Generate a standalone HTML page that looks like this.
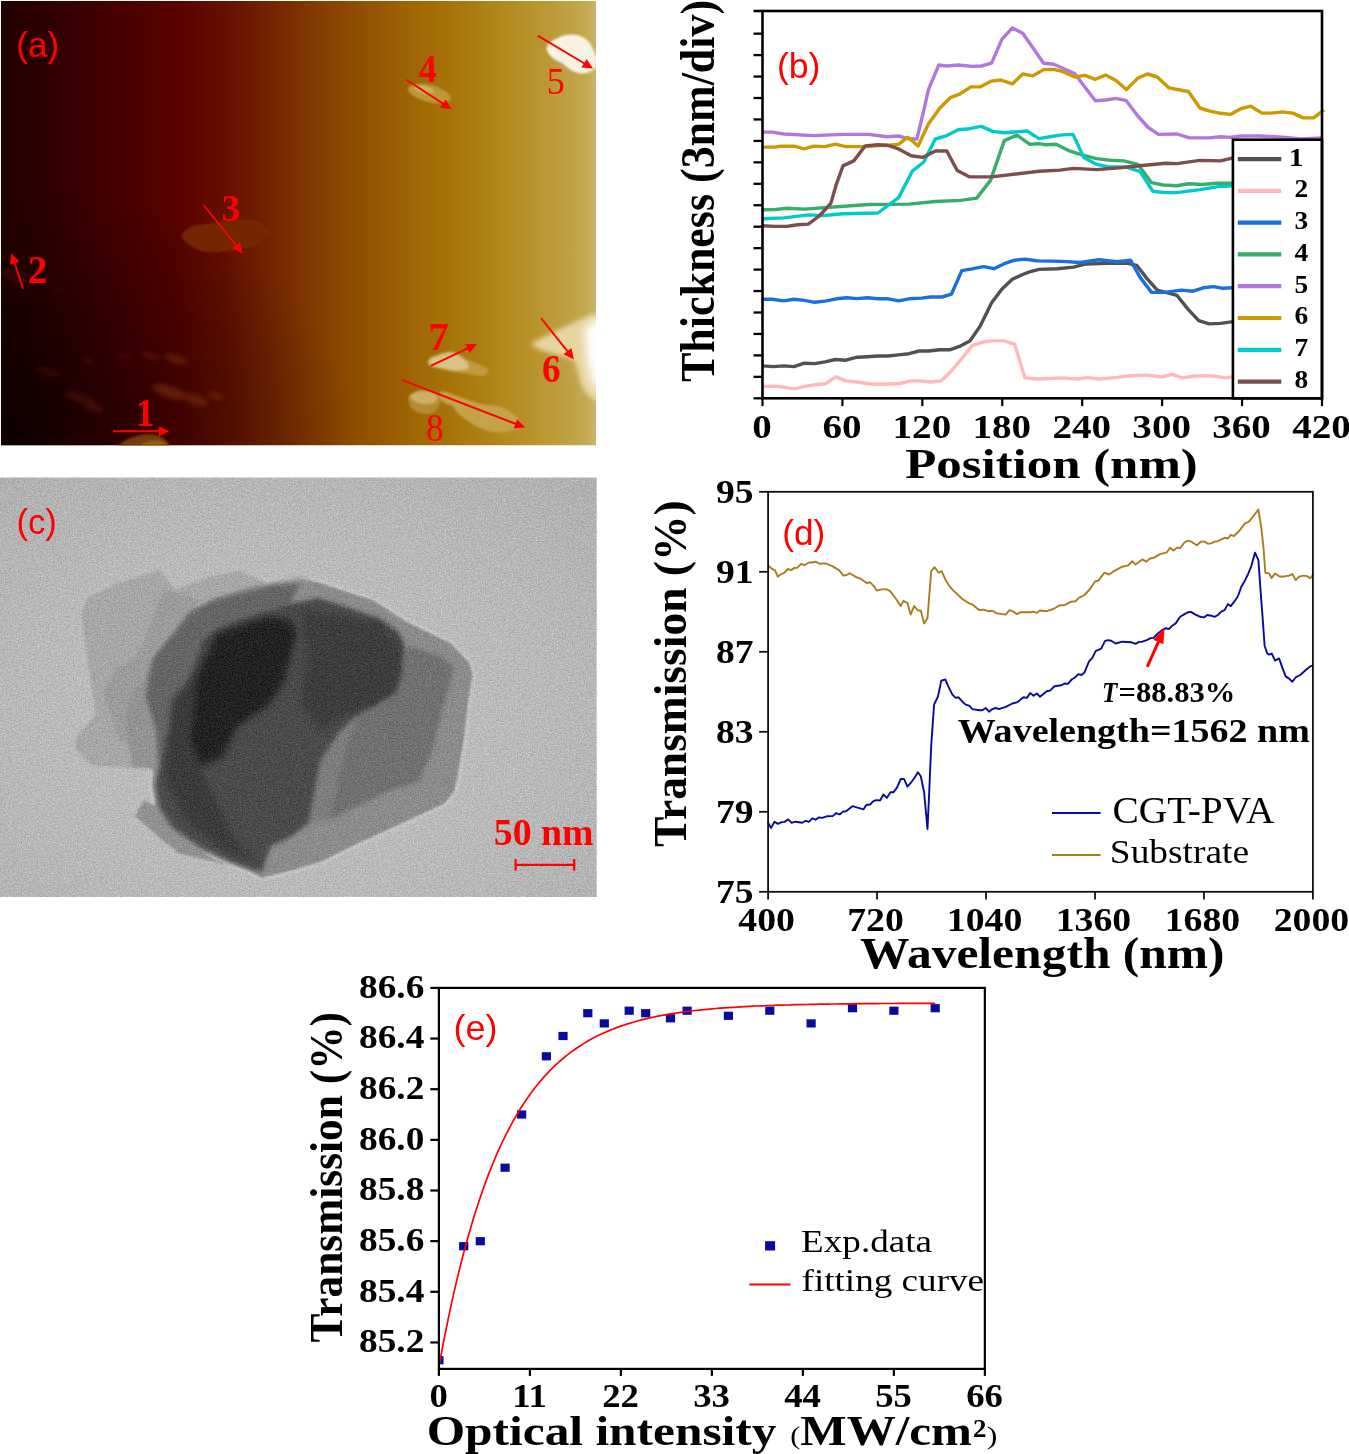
<!DOCTYPE html>
<html lang="en"><head><meta charset="utf-8"><title>Figure</title>
<style>html,body{margin:0;padding:0;background:#fff}svg{display:block}text{white-space:pre}</style></head>
<body>
<svg width="1349" height="1454" viewBox="0 0 1349 1454">
<rect width="1349" height="1454" fill="#fff"/>
<defs>
<linearGradient id="ga" x1="0" y1="0" x2="1" y2="0">
<stop offset="0" stop-color="#220000"/>
<stop offset="0.06" stop-color="#2b0000"/>
<stop offset="0.13" stop-color="#3a0000"/>
<stop offset="0.20" stop-color="#480000"/>
<stop offset="0.30" stop-color="#590200"/>
<stop offset="0.38" stop-color="#661000"/>
<stop offset="0.46" stop-color="#752600"/>
<stop offset="0.54" stop-color="#853e00"/>
<stop offset="0.62" stop-color="#935300"/>
<stop offset="0.70" stop-color="#a06803"/>
<stop offset="0.78" stop-color="#a9790c"/>
<stop offset="0.86" stop-color="#b48d20"/>
<stop offset="0.93" stop-color="#bc9b38"/>
<stop offset="0.98" stop-color="#c4a850"/>
<stop offset="1" stop-color="#cbb268"/>
</linearGradient>
<linearGradient id="gav" x1="0" y1="0" x2="0.35" y2="1">
<stop offset="0" stop-color="#000" stop-opacity="0"/>
<stop offset="0.5" stop-color="#000" stop-opacity="0.05"/>
<stop offset="1" stop-color="#000" stop-opacity="0.0"/>
</linearGradient>
<radialGradient id="gabl" cx="0" cy="1" r="0.6">
<stop offset="0" stop-color="#000" stop-opacity="0.6"/>
<stop offset="1" stop-color="#000" stop-opacity="0"/>
</radialGradient>
<filter id="bl1" x="-20%" y="-20%" width="140%" height="140%"><feGaussianBlur stdDeviation="1.2"/></filter>
<filter id="bl2" x="-30%" y="-30%" width="160%" height="160%"><feGaussianBlur stdDeviation="2.5"/></filter>
<filter id="bl4" x="-30%" y="-30%" width="160%" height="160%"><feGaussianBlur stdDeviation="5"/></filter>
<clipPath id="ca"><rect x="1" y="1" width="595" height="444.5"/></clipPath>
</defs>
<g clip-path="url(#ca)">
<rect x="1" y="1" width="595" height="444.5" fill="url(#ga)"/>
<rect x="1" y="1" width="595" height="444.5" fill="url(#gabl)"/>
<g filter="url(#bl1)">
<path d="M183,234 C186,228 195,226 205,225 C220,222 235,220 245,220.5 C255,221 266,225 267,231 C267,237 262,241 255,244 C245,248 225,251 212,251.7 C200,251 192,247 188,243 C184,240 182,237 183,234Z" fill="#732606" stroke="#7e3210" stroke-width="1"/>
<ellipse cx="429.5" cy="93.5" rx="22" ry="8.5" transform="rotate(14 429.5 93.5)" fill="#bd9838"/>
<ellipse cx="424" cy="89.5" rx="10" ry="3.5" transform="rotate(14 424 89.5)" fill="#d0b162"/>
<path d="M427.4,361.7 C429,357 433,355.5 436.5,355.5 C442,352 448,351 453,351.3 C459,353 463,357 467.6,359.6 C473,362 479,364 483,366 C486,367 488.4,368 488.4,370 C488,373 486,375.7 482,375.7 C474,375.5 466,374 459,372.6 C452,372 446,370.5 441.7,369 C436,368 431,367 430.3,365.9 C428,365 427,363 427.4,361.7Z" fill="#c09a3c"/>
<path d="M429,361.5 C431,357.5 435,356.5 438,356 C444,353 449,352.5 453,353 C458,355 462,358.5 466,361 C469,364 470,367 467,369 C462,371 455,370.5 449,369.5 C443,368.5 437,367.5 432,366 C430,365 428.5,363 429,361.5Z" fill="#d9c384"/>
<path d="M408.5,398 C410,392 418,389.7 426,390 C433,390.5 440,393 440.7,398 C441,404 438,410 432,413.5 C426,415 418,414 413,410 C409.5,406 408,402 408.5,398Z" fill="#b48c30"/>
<path d="M410,397 C412,392 419,390.5 426,391 C432,391.5 438,394 438,398 C437,402 432,404 426,404 C420,404 413,402 410,397Z" fill="#ccb064"/>
<path d="M440.7,391.3 C446,391 452,394 457.3,396 C464,398.5 471,401 478,403.2 C485,405 492,405.5 498.8,406.3 C505,408 510,411 514.3,414.6 C518,418 520.6,421 520.6,424 C520,427.5 518,430 514.3,430.2 C508,432 500,432.5 493.6,432.3 C486,431 479,428 473.9,425 C468,421.5 463,418 459.3,414.6 C456,412 454.5,409 453.1,406.3 C448,404.5 443,402.5 440.7,400 C439.5,397 439.5,393.5 440.7,391.3Z" fill="#c5a348"/>
<path d="M118,446 C124,439 136,435 148,434 C158,434 166,438 170,446Z" fill="#87480a" opacity="0.8"/>
<path d="M140,446 C145,441 154,439 160,441 C164,442 167,444 168,446Z" fill="#9a6a0a" opacity="0.8"/>
</g>
<g filter="url(#bl1)">
<path d="M546.5,49 C547,43 553,40 558,38 C563,35 570,33.5 577,35 C584,36.5 590,41 592,47 C594,52 597,56 597,60 L597,66 C592,72 585,75 578,73 C571,71 566,67 562,63 C556,61 548,56 546.5,49Z" fill="#f7f2e2"/>
</g>
<g filter="url(#bl2)">
<path d="M531,344 C536,340 545,337 552,333 C560,329 568,325 575,322 C583,318 590,315 600,313 L600,403 C594,400 588,396 584,390 C580,384 578,372 575,362 C570,358 562,356 555,354 C546,352 536,349 531,344Z" fill="#e6d5a0"/>
</g>
<g filter="url(#bl4)">
<path d="M585,328 C590,322 596,320 604,318 L604,394 C596,390 591,384 589,370 C587,356 584,340 585,328Z" fill="#ffffff"/>
</g>
<g filter="url(#bl2)" opacity="0.45">
<ellipse cx="176" cy="359" rx="12" ry="4" transform="rotate(18 176 359)" fill="#8a3a10"/>
<ellipse cx="150" cy="356" rx="10" ry="3.5" transform="rotate(18 150 356)" fill="#6a1a08"/>
<ellipse cx="125" cy="356" rx="9" ry="3" transform="rotate(18 125 356)" fill="#5a1208"/>
<ellipse cx="88" cy="361" rx="8" ry="3" transform="rotate(18 88 361)" fill="#561008"/>
<ellipse cx="170" cy="392" rx="18" ry="6" transform="rotate(18 170 392)" fill="#8c4012"/>
<ellipse cx="196" cy="400" rx="12" ry="5" transform="rotate(18 196 400)" fill="#8a3c10"/>
<ellipse cx="216" cy="396" rx="8" ry="4" transform="rotate(18 216 396)" fill="#7a300c"/>
<ellipse cx="80" cy="398" rx="16" ry="5" transform="rotate(18 80 398)" fill="#641408"/>
<ellipse cx="95" cy="408" rx="10" ry="4" transform="rotate(18 95 408)" fill="#701c0a"/>
<ellipse cx="48" cy="372" rx="12" ry="5" transform="rotate(18 48 372)" fill="#4a0c06"/>
<ellipse cx="15" cy="276" rx="16" ry="6" transform="rotate(18 15 276)" fill="#50100a"/>
<ellipse cx="60" cy="290" rx="8" ry="3" transform="rotate(18 60 290)" fill="#420a06"/>
</g>
</g>
<line x1="113.0" y1="431.3" x2="160.8" y2="431.3" stroke="#ff0000" stroke-width="1.9"/><polygon points="169.3,431.3 158.8,436.3 158.8,426.3" fill="#ff0000"/>
<line x1="23.1" y1="288.8" x2="14.0" y2="261.3" stroke="#ff0000" stroke-width="1.9"/><polygon points="11.3,253.2 19.3,261.6 9.9,264.7" fill="#ff0000"/>
<line x1="203.5" y1="205.0" x2="237.5" y2="247.0" stroke="#ff0000" stroke-width="1.9"/><polygon points="242.8,253.6 232.3,248.6 240.1,242.3" fill="#ff0000"/>
<line x1="406.5" y1="79.7" x2="444.6" y2="104.6" stroke="#ff0000" stroke-width="1.9"/><polygon points="451.7,109.3 440.2,107.7 445.7,99.4" fill="#ff0000"/>
<line x1="537.8" y1="35.6" x2="585.7" y2="64.2" stroke="#ff0000" stroke-width="1.9"/><polygon points="593.0,68.6 581.4,67.5 586.6,58.9" fill="#ff0000"/>
<line x1="541.1" y1="318.2" x2="568.7" y2="352.8" stroke="#ff0000" stroke-width="1.9"/><polygon points="574.0,359.4 563.5,354.3 571.4,348.1" fill="#ff0000"/>
<line x1="430.8" y1="365.9" x2="469.3" y2="347.7" stroke="#ff0000" stroke-width="1.9"/><polygon points="477.0,344.1 469.6,353.1 465.4,344.1" fill="#ff0000"/>
<line x1="401.7" y1="379.9" x2="517.3" y2="424.5" stroke="#ff0000" stroke-width="1.9"/><polygon points="525.2,427.6 513.6,428.5 517.2,419.2" fill="#ff0000"/>
<clipPath id="cb"><rect x="762.5" y="11" width="563.5" height="387.3"/></clipPath>
<g clip-path="url(#cb)">
<polyline points="762.5,365.9 773.3,366.6 783.7,365.9 794.0,366.6 804.3,363.2 814.7,363.6 825.0,361.8 835.4,359.5 845.7,360.2 857.2,357.2 867.5,356.7 877.9,356.0 888.2,356.0 898.6,354.9 908.9,353.7 919.2,351.0 928.4,351.0 939.9,349.8 949.6,349.8 959.5,346.4 969.8,341.1 980.1,326.2 991.6,302.7 1002.0,288.9 1012.3,279.3 1022.7,274.5 1029.5,271.9 1039.0,269.4 1057.4,268.7 1073.5,267.1 1085.0,264.1 1107.9,263.2 1126.3,263.2 1136.7,265.3 1147.0,278.6 1157.3,290.1 1176.9,295.4 1188.4,309.6 1198.7,320.7 1209.1,323.9 1220.5,323.4 1233.2,321.6" fill="none" stroke="#515151" stroke-width="3.4" stroke-linejoin="round" stroke-linecap="butt" />
<polyline points="762.5,386.6 773.3,386.1 783.7,387.1 794.0,388.9 804.3,386.6 814.7,384.8 825.5,383.8 835.8,376.7 845.7,380.9 857.2,382.0 868.7,383.8 877.9,384.3 898.6,383.8 910.1,380.9 919.2,380.9 930.7,382.0 941.1,380.9 951.4,371.0 961.8,358.6 972.1,345.7 983.6,341.8 992.8,340.9 1004.3,340.9 1014.6,344.1 1025.0,377.9 1036.4,379.0 1039.0,379.0 1062.0,377.9 1078.1,379.0 1087.3,377.4 1098.7,379.0 1117.1,377.4 1130.9,375.8 1147.0,375.1 1161.9,377.0 1171.8,374.4 1182.6,377.9 1193.0,376.3 1204.5,375.6 1215.9,376.3 1225.1,377.9 1233.2,377.0" fill="none" stroke="#ffb9b9" stroke-width="3.4" stroke-linejoin="round" stroke-linecap="butt" />
<polyline points="762.5,299.3 772.2,299.3 783.7,300.9 794.0,299.3 804.3,300.4 814.7,302.3 825.0,301.1 836.5,298.8 846.9,297.7 857.2,298.6 867.5,297.7 877.9,298.8 888.2,298.8 898.6,300.9 908.9,298.8 921.5,298.1 930.7,297.0 942.2,297.0 951.4,294.2 961.8,270.6 972.1,268.9 983.6,266.6 993.9,268.7 1004.3,263.7 1014.6,260.2 1025.0,259.1 1036.4,260.7 1039.0,260.9 1062.0,261.4 1080.4,262.5 1098.7,259.8 1117.1,261.8 1130.5,260.2 1140.1,277.4 1151.6,292.4 1164.2,292.4 1181.5,290.1 1193.0,291.2 1203.3,287.8 1213.6,286.6 1222.8,288.3 1233.2,287.8" fill="none" stroke="#1a6fdf" stroke-width="3.4" stroke-linejoin="round" stroke-linecap="butt" />
<polyline points="762.5,209.8 774.5,209.6 787.1,208.2 804.3,209.1 868.7,204.5 908.9,204.1 935.3,201.5 960.6,200.4 976.7,198.1 990.5,180.4 1004.3,140.6 1016.9,135.1 1029.8,144.3 1039.0,143.6 1045.9,144.8 1056.2,144.3 1070.0,151.2 1082.7,155.1 1096.4,158.6 1110.2,160.2 1124.0,160.9 1137.8,164.3 1151.6,182.7 1163.1,185.0 1176.9,185.7 1188.4,183.8 1202.2,184.5 1215.9,183.2 1233.2,183.2" fill="none" stroke="#37ad6b" stroke-width="3.4" stroke-linejoin="round" stroke-linecap="butt" />
<polyline points="762.5,132.1 772.2,132.1 783.7,134.0 813.5,135.6 843.4,134.4 868.7,134.4 887.1,136.7 898.6,136.0 907.8,138.6 916.9,139.0 923.8,110.3 928.4,89.6 938.8,65.0 946.8,66.0 958.3,65.0 972.1,66.4 981.3,66.0 991.6,63.2 1002.0,39.1 1012.3,28.0 1022.7,33.3 1034.1,49.4 1043.6,63.2 1053.9,64.3 1074.6,73.5 1095.3,100.7 1105.6,100.0 1116.0,98.4 1126.3,100.7 1137.8,116.0 1148.2,127.5 1158.5,134.4 1176.9,134.0 1189.5,137.9 1209.1,137.9 1220.5,136.7 1229.7,137.4 1241.2,136.0 1259.6,136.0 1282.6,137.2 1301.0,139.0 1321.7,137.9" fill="none" stroke="#b177de" stroke-width="3.4" stroke-linejoin="round" stroke-linecap="butt" />
<polyline points="762.5,147.1 774.5,147.1 781.4,146.2 794.0,146.2 804.3,148.9 813.5,146.2 825.0,146.6 835.4,144.1 845.7,146.6 868.7,146.6 877.9,145.5 887.1,145.5 898.6,144.3 907.8,137.2 918.1,145.9 928.4,124.1 939.9,108.0 950.3,97.7 959.5,94.2 970.9,86.9 980.1,86.9 991.6,81.1 1000.8,80.0 1012.3,83.9 1022.7,74.0 1033.0,75.8 1043.6,69.6 1053.9,69.4 1063.1,71.7 1074.6,77.0 1085.0,75.4 1095.3,79.3 1105.6,75.1 1116.0,80.4 1126.3,89.6 1137.8,78.1 1147.5,74.0 1157.3,77.0 1168.8,87.8 1188.4,91.5 1199.9,108.0 1209.1,110.8 1220.5,113.3 1230.4,114.4 1241.2,108.5 1250.9,106.2 1261.9,113.1 1271.1,113.1 1282.6,111.9 1292.9,113.1 1303.3,117.9 1313.6,117.9 1324.0,109.8" fill="none" stroke="#cc9900" stroke-width="3.4" stroke-linejoin="round" stroke-linecap="butt" />
<polyline points="762.5,218.8 783.7,217.9 808.9,214.9 822.7,215.6 843.4,213.7 877.9,213.0 898.6,197.6 912.3,171.2 923.8,162.0 935.3,139.0 946.8,135.6 958.3,129.8 969.8,128.7 981.3,126.4 992.8,131.4 1004.3,132.8 1027.2,131.0 1039.0,138.6 1052.8,136.3 1062.0,134.9 1073.0,134.4 1083.8,157.4 1096.4,164.3 1107.9,166.6 1126.3,167.1 1140.1,171.7 1152.8,191.2 1165.4,192.6 1176.9,192.6 1199.9,189.6 1218.2,186.6 1233.2,185.7" fill="none" stroke="#00cbcc" stroke-width="3.4" stroke-linejoin="round" stroke-linecap="butt" />
<polyline points="762.5,225.7 774.5,226.4 787.1,226.4 797.4,224.7 808.3,224.1 819.3,216.0 830.8,203.4 836.5,183.8 843.0,165.9 853.8,160.9 865.2,145.9 877.9,144.8 887.1,145.2 898.6,148.9 911.2,155.8 922.7,157.4 935.3,151.0 946.8,151.0 957.2,170.5 969.8,176.9 991.6,176.9 1039.0,171.2 1059.7,170.1 1073.5,168.4 1096.4,169.6 1119.4,167.8 1142.4,165.5 1165.4,163.2 1176.9,163.6 1199.9,160.4 1220.5,160.9 1233.2,157.9" fill="none" stroke="#7d4e4e" stroke-width="3.4" stroke-linejoin="round" stroke-linecap="butt" />
</g>
<rect x="1232.9" y="139.7" width="89.09999999999991" height="258.6" fill="#fff" stroke="#000" stroke-width="2.6"/>
<line x1="1237.8" y1="159.1" x2="1281.3" y2="159.1" stroke="#515151" stroke-width="4.2"/>
<line x1="1237.8" y1="190.9" x2="1281.3" y2="190.9" stroke="#ffb9b9" stroke-width="4.2"/>
<line x1="1237.8" y1="222.7" x2="1281.3" y2="222.7" stroke="#1a6fdf" stroke-width="4.2"/>
<line x1="1237.8" y1="254.4" x2="1281.3" y2="254.4" stroke="#37ad6b" stroke-width="4.2"/>
<line x1="1237.8" y1="286.2" x2="1281.3" y2="286.2" stroke="#b177de" stroke-width="4.2"/>
<line x1="1237.8" y1="318.0" x2="1281.3" y2="318.0" stroke="#cc9900" stroke-width="4.2"/>
<line x1="1237.8" y1="349.8" x2="1281.3" y2="349.8" stroke="#00cbcc" stroke-width="4.2"/>
<line x1="1237.8" y1="381.6" x2="1281.3" y2="381.6" stroke="#7d4e4e" stroke-width="4.2"/>
<rect x="762.5" y="11" width="559.5" height="387.3" fill="none" stroke="#000" stroke-width="2.6"/>
<line x1="753.5" y1="11" x2="762.5" y2="11" stroke="#000" stroke-width="2.6"/>
<line x1="753.5" y1="398.30" x2="762.5" y2="398.30" stroke="#000" stroke-width="2.3"/>
<line x1="753.5" y1="376.85" x2="762.5" y2="376.85" stroke="#000" stroke-width="2.3"/>
<line x1="753.5" y1="355.40" x2="762.5" y2="355.40" stroke="#000" stroke-width="2.3"/>
<line x1="753.5" y1="333.95" x2="762.5" y2="333.95" stroke="#000" stroke-width="2.3"/>
<line x1="753.5" y1="312.50" x2="762.5" y2="312.50" stroke="#000" stroke-width="2.3"/>
<line x1="753.5" y1="291.05" x2="762.5" y2="291.05" stroke="#000" stroke-width="2.3"/>
<line x1="753.5" y1="269.60" x2="762.5" y2="269.60" stroke="#000" stroke-width="2.3"/>
<line x1="753.5" y1="248.15" x2="762.5" y2="248.15" stroke="#000" stroke-width="2.3"/>
<line x1="753.5" y1="226.70" x2="762.5" y2="226.70" stroke="#000" stroke-width="2.3"/>
<line x1="753.5" y1="205.25" x2="762.5" y2="205.25" stroke="#000" stroke-width="2.3"/>
<line x1="753.5" y1="183.80" x2="762.5" y2="183.80" stroke="#000" stroke-width="2.3"/>
<line x1="753.5" y1="162.35" x2="762.5" y2="162.35" stroke="#000" stroke-width="2.3"/>
<line x1="753.5" y1="140.90" x2="762.5" y2="140.90" stroke="#000" stroke-width="2.3"/>
<line x1="753.5" y1="119.45" x2="762.5" y2="119.45" stroke="#000" stroke-width="2.3"/>
<line x1="753.5" y1="98.00" x2="762.5" y2="98.00" stroke="#000" stroke-width="2.3"/>
<line x1="753.5" y1="76.55" x2="762.5" y2="76.55" stroke="#000" stroke-width="2.3"/>
<line x1="753.5" y1="55.10" x2="762.5" y2="55.10" stroke="#000" stroke-width="2.3"/>
<line x1="753.5" y1="33.65" x2="762.5" y2="33.65" stroke="#000" stroke-width="2.3"/>
<line x1="762.50" y1="398.3" x2="762.50" y2="406.1" stroke="#000" stroke-width="2.2"/>
<line x1="842.43" y1="398.3" x2="842.43" y2="406.1" stroke="#000" stroke-width="2.2"/>
<line x1="922.36" y1="398.3" x2="922.36" y2="406.1" stroke="#000" stroke-width="2.2"/>
<line x1="1002.29" y1="398.3" x2="1002.29" y2="406.1" stroke="#000" stroke-width="2.2"/>
<line x1="1082.21" y1="398.3" x2="1082.21" y2="406.1" stroke="#000" stroke-width="2.2"/>
<line x1="1162.14" y1="398.3" x2="1162.14" y2="406.1" stroke="#000" stroke-width="2.2"/>
<line x1="1242.07" y1="398.3" x2="1242.07" y2="406.1" stroke="#000" stroke-width="2.2"/>
<line x1="1322.00" y1="398.3" x2="1322.00" y2="406.1" stroke="#000" stroke-width="2.2"/>
<defs>
<filter id="noise" x="0" y="0" width="100%" height="100%" color-interpolation-filters="sRGB">
<feTurbulence type="fractalNoise" baseFrequency="0.75" numOctaves="2" seed="11" stitchTiles="noStitch" result="n"/>
<feColorMatrix in="n" type="matrix" values="1 0 0 0 0  1 0 0 0 0  1 0 0 0 0  0 0 0 0 1" result="g"/>
<feComposite in="SourceGraphic" in2="g" operator="arithmetic" k1="0" k2="1" k3="0.32" k4="-0.16"/>
</filter>
<filter id="b1" x="-10%" y="-10%" width="120%" height="120%"><feGaussianBlur stdDeviation="1.1"/></filter>
<filter id="b2" x="-10%" y="-10%" width="120%" height="120%"><feGaussianBlur stdDeviation="2.2"/></filter>
<filter id="b4" x="-20%" y="-20%" width="140%" height="140%"><feGaussianBlur stdDeviation="3.5"/></filter>
<clipPath id="cc"><rect x="0" y="477.6" width="596.6" height="419.4"/></clipPath>
<radialGradient id="gc" cx="0.48" cy="0.58" r="0.75">
<stop offset="0" stop-color="#c0c0c0"/><stop offset="0.55" stop-color="#bababa"/><stop offset="1" stop-color="#b0b0b0"/>
</radialGradient>
</defs>
<g clip-path="url(#cc)"><g filter="url(#noise)">
<rect x="0" y="477.6" width="596.6" height="419.4" fill="url(#gc)"/>
<g filter="url(#b1)">
<polygon points="271.0,584.0 249.0,587.0 215.0,598.0 191.0,610.0 170.0,636.0 153.0,657.0 144.0,681.0 146.0,696.0 156.0,730.0 158.0,756.0 153.0,772.0 152.0,785.0 155.5,806.0 169.0,830.0 200.0,850.0 230.0,864.0 248.0,870.5 262.0,878.0 290.0,871.0 321.0,862.0 355.0,845.0 444.0,804.0 454.0,792.0 457.6,778.0 464.0,739.0 468.6,700.0 473.0,674.0 469.0,662.0 450.5,643.0 407.5,622.0 373.0,600.0 342.0,590.0 318.0,582.0 300.0,580.0" fill="none" stroke="#cacaca" stroke-width="5"/>
<polygon points="81.5,615.0 87.5,598.0 117.0,583.5 161.0,570.0 165.0,577.0 175.0,590.0 211.0,576.0 240.0,571.0 266.0,583.0 300.0,576.0 340.0,590.0 200.0,700.0 160.0,770.0 131.6,768.0 91.0,765.0 75.0,748.0 77.0,736.0 96.0,715.0 89.0,670.0 86.0,646.0" fill="#a6a6a6"/>
<polygon points="103.0,693.0 117.0,669.0 132.0,660.0 142.5,646.0 153.0,619.0 163.0,590.0 200.0,600.0 170.0,640.0 150.0,690.0 160.0,760.0 120.0,740.0" fill="#9b9b9b"/>
<polygon points="135.0,816.0 143.5,800.6 155.5,805.7 179.4,836.4 213.5,858.6 230.5,865.4 179.4,853.5 162.3,839.8" fill="#919191"/>
<polygon points="133.0,690.0 146.0,680.0 150.0,696.0 158.0,730.0 160.0,756.0 155.0,772.0 146.0,766.0 133.0,768.0 128.0,740.0 126.0,712.0" fill="#939393"/>
<polygon points="271.0,584.0 249.0,587.0 215.0,598.0 191.0,610.0 170.0,636.0 153.0,657.0 144.0,681.0 146.0,696.0 156.0,730.0 158.0,756.0 153.0,772.0 152.0,785.0 155.5,806.0 169.0,830.0 200.0,850.0 230.0,864.0 248.0,870.5 262.0,878.0 290.0,871.0 321.0,862.0 355.0,845.0 444.0,804.0 454.0,792.0 457.6,778.0 464.0,739.0 468.6,700.0 473.0,674.0 469.0,662.0 450.5,643.0 407.5,622.0 373.0,600.0 342.0,590.0 318.0,582.0 300.0,580.0" fill="#8b8b8b"/>
</g>
<g filter="url(#b2)">
<polygon points="271.0,586.0 215.0,600.0 191.0,612.0 170.0,638.0 153.0,659.0 146.0,696.0 156.0,730.0 158.0,756.0 160.0,765.0 167.0,739.0 180.0,705.0 192.0,670.0 203.0,639.0 218.0,628.0 250.0,616.0 290.0,604.0 300.0,584.0" fill="#656565"/>
<polygon points="407.5,646.3 441.9,656.6 453.9,666.9 443.6,704.7 432.0,751.2 418.3,781.8 389.4,790.4 329.7,819.4 338.0,785.0 345.0,751.0 360.0,714.0 377.0,708.0 395.5,693.0 402.0,670.0" fill="#6f6f6f"/>
<polygon points="379.0,703.0 355.0,717.0 338.0,734.0 321.0,760.0 312.6,802.0 309.0,823.0 329.7,818.0 338.0,785.0 345.0,751.0 360.0,714.0" fill="#7d7d7d"/>
<polygon points="290.0,604.0 318.0,598.0 347.0,607.0 380.0,619.0 399.0,632.5 404.0,646.0 402.0,670.0 395.5,693.0 379.0,703.0 355.0,717.0 338.0,734.0 321.0,760.0 312.6,802.0 309.0,823.0 292.0,836.0 270.0,847.0 262.0,872.0 248.0,868.0 230.0,861.0 200.0,847.0 172.0,827.0 159.0,806.0 156.0,785.0 160.0,765.0 167.0,739.0 180.0,705.0 192.0,670.0 203.0,639.0 218.0,628.0 250.0,616.0" fill="#4b4b4b"/>
</g>
<g filter="url(#b4)">
<polygon points="300.0,608.0 380.0,622.2 402.4,646.3 397.2,687.5 376.6,704.7 347.4,713.3 321.6,730.5 300.0,704.7 306.0,653.1" fill="#3e3e3e"/>
<polygon points="216.8,633.4 266.8,616.7 290.2,620.0 296.8,633.4 283.5,683.4 266.8,706.8 236.8,726.8 223.4,756.8 200.1,766.8 190.1,740.1 196.8,673.4" fill="#222222"/>
<polygon points="172.0,700.0 196.0,673.0 190.0,740.0 200.0,767.0 215.0,800.0 235.0,840.0 255.0,862.0 225.0,850.0 185.0,820.0 165.0,780.0" fill="#3a3a3a"/>
</g>
</g></g>
<line x1="514.6" y1="864.8" x2="575.2" y2="864.8" stroke="#ff0000" stroke-width="2.2"/>
<line x1="515.6" y1="858.9" x2="515.6" y2="870.6" stroke="#ff0000" stroke-width="2.2"/>
<line x1="574.2" y1="858.9" x2="574.2" y2="870.6" stroke="#ff0000" stroke-width="2.2"/>
<polyline points="767.8,565.2 772.2,569.0 774.9,570.1 777.8,576.7 781.1,574.1 784.5,572.7 787.8,569.0 791.1,570.1 794.5,567.9 797.1,567.9 801.1,563.8 804.5,565.2 808.9,562.5 812.3,562.5 815.6,561.6 819.4,563.8 825.6,563.4 832.3,566.1 839.0,570.1 843.4,575.6 846.7,575.0 849.6,573.2 856.7,577.4 860.1,578.5 866.8,583.0 870.1,582.3 873.4,585.6 876.8,590.5 881.2,589.4 886.8,589.4 890.1,591.2 895.7,598.5 900.8,606.1 903.4,600.8 907.4,602.8 910.6,614.6 914.1,606.1 917.9,610.5 920.8,610.5 924.1,623.4 927.5,617.9 929.0,599.0 931.2,571.2 934.6,567.2 938.6,572.7 941.7,571.2 945.7,580.1 949.0,585.6 952.4,589.6 962.4,599.0 969.1,603.4 972.4,604.5 979.1,610.1 983.5,609.7 988.0,611.2 992.4,610.8 996.8,613.4 1005.7,614.6 1009.5,610.1 1013.5,611.7 1016.9,614.1 1020.2,612.3 1025.8,612.3 1030.2,612.3 1033.5,611.7 1036.9,612.8 1040.0,610.5 1046.7,611.2 1053.3,609.0 1060.0,605.2 1064.5,605.2 1071.1,601.7 1075.6,601.2 1078.9,597.9 1084.5,595.0 1090.0,589.0 1095.2,581.2 1098.3,580.7 1104.5,572.7 1108.9,574.5 1115.6,570.1 1122.3,566.7 1127.8,565.6 1132.3,561.2 1135.6,564.5 1142.3,559.4 1146.3,561.6 1150.1,558.5 1153.4,557.8 1160.1,554.1 1166.8,552.3 1170.1,547.8 1173.4,550.5 1177.4,547.4 1180.1,548.3 1184.6,542.3 1187.9,540.7 1191.2,541.6 1196.8,545.2 1201.2,541.6 1204.6,541.6 1207.9,543.8 1211.2,543.4 1214.6,541.6 1217.9,541.2 1224.6,537.8 1227.9,538.5 1230.8,534.9 1233.9,536.0 1239.0,531.2 1245.0,523.4 1249.0,521.6 1258.4,509.6 1261.3,527.8 1263.5,547.8 1265.3,572.7 1269.1,573.4 1271.7,577.9 1275.1,573.4 1279.1,576.3 1282.4,576.7 1289.1,575.6 1292.4,574.1 1295.7,580.1 1299.1,576.7 1303.5,575.6 1306.9,576.1 1310.2,578.3 1313.5,574.1" fill="none" stroke="#a87d1e" stroke-width="1.9" stroke-linejoin="round" stroke-linecap="butt" />
<polyline points="767.8,822.3 771.1,827.9 774.5,821.7 777.8,823.9 781.1,822.3 784.5,821.9 788.3,819.4 791.6,822.8 795.6,821.7 802.3,822.8 805.6,820.8 808.9,821.9 812.3,818.3 815.6,819.7 818.9,817.4 822.3,817.9 826.7,816.3 832.7,816.1 836.3,813.0 839.6,814.5 843.0,811.6 846.1,811.2 852.7,806.1 856.7,807.4 863.4,809.4 866.3,805.0 870.1,804.5 873.4,801.2 876.3,800.1 880.1,800.5 883.4,794.5 886.8,797.9 890.5,792.3 893.4,792.3 896.8,787.9 900.8,779.0 904.1,779.0 907.4,786.7 911.2,782.3 914.6,777.8 917.9,772.3 920.8,776.3 924.1,792.3 927.5,829.0 929.0,796.7 931.2,745.6 934.1,704.5 937.9,696.7 941.3,680.6 945.3,679.5 949.0,687.9 952.4,694.6 955.7,697.9 958.6,697.3 962.4,701.7 965.7,704.6 969.1,705.7 972.4,709.1 979.1,710.2 982.4,710.2 985.7,708.0 989.1,711.7 992.4,709.1 995.7,708.0 999.1,709.1 1005.7,706.8 1012.4,703.5 1016.9,702.4 1023.5,697.3 1026.9,697.9 1030.2,693.1 1033.5,695.7 1036.9,693.5 1040.0,696.8 1046.7,691.3 1050.0,690.6 1054.5,686.2 1061.1,685.3 1064.5,683.5 1067.8,683.9 1072.2,679.0 1074.5,677.9 1078.3,674.2 1081.6,675.0 1084.5,672.4 1088.9,661.7 1092.3,657.9 1095.6,651.2 1101.2,648.6 1104.9,641.2 1107.8,640.1 1111.2,640.8 1115.6,643.5 1122.3,641.7 1131.6,642.3 1135.6,643.9 1139.0,641.9 1142.3,641.7 1146.7,640.1 1150.1,638.3 1153.4,637.9 1157.9,633.5 1162.3,630.1 1165.6,628.3 1169.0,629.0 1172.3,625.7 1175.7,623.4 1180.1,616.8 1184.6,614.1 1187.9,612.3 1190.8,611.9 1194.6,614.1 1200.1,616.8 1203.9,617.4 1207.2,615.0 1211.2,615.7 1214.6,616.8 1217.9,615.0 1221.2,611.7 1224.6,610.1 1227.9,604.1 1230.8,606.1 1234.6,601.2 1237.9,596.3 1241.3,586.8 1244.6,581.2 1247.9,574.5 1251.3,566.1 1255.0,552.7 1258.4,560.1 1260.2,585.6 1262.4,614.6 1264.6,645.7 1267.3,653.5 1269.1,654.6 1271.7,653.5 1275.1,660.6 1279.1,658.4 1282.4,667.9 1285.7,676.4 1289.1,678.6 1292.4,681.7 1295.7,677.3 1300.2,675.0 1306.9,669.0 1310.2,666.4 1313.5,665.3" fill="none" stroke="#0a0aa0" stroke-width="1.9" stroke-linejoin="round" stroke-linecap="butt" />
<rect x="768.1" y="491.8" width="544.8000000000001" height="399.99999999999994" fill="none" stroke="#111" stroke-width="1.8"/>
<line x1="759.1" y1="491.80" x2="768.1" y2="491.80" stroke="#111" stroke-width="1.8"/>
<line x1="759.1" y1="571.80" x2="768.1" y2="571.80" stroke="#111" stroke-width="1.8"/>
<line x1="759.1" y1="651.80" x2="768.1" y2="651.80" stroke="#111" stroke-width="1.8"/>
<line x1="759.1" y1="731.80" x2="768.1" y2="731.80" stroke="#111" stroke-width="1.8"/>
<line x1="759.1" y1="811.80" x2="768.1" y2="811.80" stroke="#111" stroke-width="1.8"/>
<line x1="759.1" y1="891.80" x2="768.1" y2="891.80" stroke="#111" stroke-width="1.8"/>
<line x1="768.10" y1="891.8" x2="768.10" y2="899.5999999999999" stroke="#111" stroke-width="1.8"/>
<line x1="877.06" y1="891.8" x2="877.06" y2="899.5999999999999" stroke="#111" stroke-width="1.8"/>
<line x1="986.02" y1="891.8" x2="986.02" y2="899.5999999999999" stroke="#111" stroke-width="1.8"/>
<line x1="1094.98" y1="891.8" x2="1094.98" y2="899.5999999999999" stroke="#111" stroke-width="1.8"/>
<line x1="1203.94" y1="891.8" x2="1203.94" y2="899.5999999999999" stroke="#111" stroke-width="1.8"/>
<line x1="1312.90" y1="891.8" x2="1312.90" y2="899.5999999999999" stroke="#111" stroke-width="1.8"/>
<line x1="1052" y1="813" x2="1100.6" y2="813" stroke="#0a0aa0" stroke-width="2"/>
<line x1="1052" y1="855" x2="1100.6" y2="855" stroke="#a87d1e" stroke-width="2"/>
<line x1="1147.2" y1="666.8" x2="1159.2" y2="640.2" stroke="#ff0000" stroke-width="3"/><polygon points="1164.5,628.3 1163.4,644.2 1153.3,639.7" fill="#ff0000"/>
<clipPath id="ce"><rect x="438.9" y="987.9" width="545.95" height="381.0000000000001"/></clipPath>
<g clip-path="url(#ce)">
<rect x="434.3" y="1356.1" width="9.2" height="8.2" fill="#0a0aa0"/>
<rect x="459.1" y="1242.1" width="9.2" height="8.2" fill="#0a0aa0"/>
<rect x="475.7" y="1237.1" width="9.2" height="8.2" fill="#0a0aa0"/>
<rect x="500.5" y="1163.6" width="9.2" height="8.2" fill="#0a0aa0"/>
<rect x="517.0" y="1110.4" width="9.2" height="8.2" fill="#0a0aa0"/>
<rect x="541.8" y="1052.2" width="9.2" height="8.2" fill="#0a0aa0"/>
<rect x="558.4" y="1031.9" width="9.2" height="8.2" fill="#0a0aa0"/>
<rect x="583.2" y="1009.1" width="9.2" height="8.2" fill="#0a0aa0"/>
<rect x="599.7" y="1019.3" width="9.2" height="8.2" fill="#0a0aa0"/>
<rect x="624.6" y="1006.6" width="9.2" height="8.2" fill="#0a0aa0"/>
<rect x="641.1" y="1009.1" width="9.2" height="8.2" fill="#0a0aa0"/>
<rect x="665.9" y="1014.2" width="9.2" height="8.2" fill="#0a0aa0"/>
<rect x="682.5" y="1006.6" width="9.2" height="8.2" fill="#0a0aa0"/>
<rect x="723.8" y="1011.7" width="9.2" height="8.2" fill="#0a0aa0"/>
<rect x="765.2" y="1006.6" width="9.2" height="8.2" fill="#0a0aa0"/>
<rect x="806.5" y="1019.3" width="9.2" height="8.2" fill="#0a0aa0"/>
<rect x="847.9" y="1004.1" width="9.2" height="8.2" fill="#0a0aa0"/>
<rect x="889.3" y="1006.6" width="9.2" height="8.2" fill="#0a0aa0"/>
<rect x="930.6" y="1004.1" width="9.2" height="8.2" fill="#0a0aa0"/>
<polyline points="438.9,1366.8 443.0,1344.6 447.2,1323.9 451.3,1304.4 455.4,1286.1 459.6,1268.8 463.7,1252.7 467.9,1237.5 472.0,1223.3 476.1,1209.9 480.3,1197.3 484.4,1185.5 488.5,1174.4 492.7,1164.0 496.8,1154.2 500.9,1145.0 505.1,1136.4 509.2,1128.3 513.3,1120.7 517.5,1113.5 521.6,1106.8 525.8,1100.5 529.9,1094.6 534.0,1089.0 538.2,1083.8 542.3,1078.9 546.4,1074.3 550.6,1069.9 554.7,1065.9 558.8,1062.1 563.0,1058.5 567.1,1055.1 571.3,1051.9 575.4,1049.0 579.5,1046.2 583.7,1043.6 587.8,1041.1 591.9,1038.8 596.1,1036.6 600.2,1034.6 604.3,1032.7 608.5,1030.9 612.6,1029.2 616.7,1027.6 620.9,1026.1 625.0,1024.7 629.2,1023.4 633.3,1022.2 637.4,1021.0 641.6,1019.9 645.7,1018.9 649.8,1017.9 654.0,1017.0 658.1,1016.2 662.2,1015.4 666.4,1014.6 670.5,1013.9 674.7,1013.3 678.8,1012.7 682.9,1012.1 687.1,1011.5 691.2,1011.0 695.3,1010.5 699.5,1010.1 703.6,1009.7 707.7,1009.3 711.9,1008.9 716.0,1008.5 720.1,1008.2 724.3,1007.9 728.4,1007.6 732.6,1007.3 736.7,1007.1 740.8,1006.8 745.0,1006.6 749.1,1006.4 753.2,1006.2 757.4,1006.0 761.5,1005.8 765.6,1005.7 769.8,1005.5 773.9,1005.4 778.1,1005.2 782.2,1005.1 786.3,1005.0 790.5,1004.9 794.6,1004.7 798.7,1004.6 802.9,1004.6 807.0,1004.5 811.1,1004.4 815.3,1004.3 819.4,1004.2 823.5,1004.2 827.7,1004.1 831.8,1004.0 836.0,1004.0 840.1,1003.9 844.2,1003.9 848.4,1003.8 852.5,1003.8 856.6,1003.7 860.8,1003.7 864.9,1003.7 869.0,1003.6 873.2,1003.6 877.3,1003.6 881.5,1003.5 885.6,1003.5 889.7,1003.5 893.9,1003.5 898.0,1003.4 902.1,1003.4 906.3,1003.4 910.4,1003.4 914.5,1003.4 918.7,1003.3 922.8,1003.3 926.9,1003.3 931.1,1003.3 935.2,1003.3" fill="none" stroke="#ff0000" stroke-width="1.7" stroke-linejoin="round" stroke-linecap="butt" />
</g>
<rect x="438.9" y="987.9" width="545.95" height="381.0000000000001" fill="none" stroke="#000" stroke-width="2.2"/>
<line x1="430.29999999999995" y1="987.90" x2="438.9" y2="987.90" stroke="#000" stroke-width="2.2"/>
<line x1="430.29999999999995" y1="1038.55" x2="438.9" y2="1038.55" stroke="#000" stroke-width="2.2"/>
<line x1="430.29999999999995" y1="1089.20" x2="438.9" y2="1089.20" stroke="#000" stroke-width="2.2"/>
<line x1="430.29999999999995" y1="1139.85" x2="438.9" y2="1139.85" stroke="#000" stroke-width="2.2"/>
<line x1="430.29999999999995" y1="1190.50" x2="438.9" y2="1190.50" stroke="#000" stroke-width="2.2"/>
<line x1="430.29999999999995" y1="1241.15" x2="438.9" y2="1241.15" stroke="#000" stroke-width="2.2"/>
<line x1="430.29999999999995" y1="1291.80" x2="438.9" y2="1291.80" stroke="#000" stroke-width="2.2"/>
<line x1="430.29999999999995" y1="1342.45" x2="438.9" y2="1342.45" stroke="#000" stroke-width="2.2"/>
<line x1="438.90" y1="1368.9" x2="438.90" y2="1375.9" stroke="#000" stroke-width="2.2"/>
<line x1="529.89" y1="1368.9" x2="529.89" y2="1375.9" stroke="#000" stroke-width="2.2"/>
<line x1="620.88" y1="1368.9" x2="620.88" y2="1375.9" stroke="#000" stroke-width="2.2"/>
<line x1="711.88" y1="1368.9" x2="711.88" y2="1375.9" stroke="#000" stroke-width="2.2"/>
<line x1="802.87" y1="1368.9" x2="802.87" y2="1375.9" stroke="#000" stroke-width="2.2"/>
<line x1="893.86" y1="1368.9" x2="893.86" y2="1375.9" stroke="#000" stroke-width="2.2"/>
<line x1="984.85" y1="1368.9" x2="984.85" y2="1375.9" stroke="#000" stroke-width="2.2"/>
<rect x="765.1" y="1241.2" width="10" height="9.3" fill="#0a0aa0"/>
<line x1="749.3" y1="1284.6" x2="790.5" y2="1284.6" stroke="#ff0000" stroke-width="2"/>
<text transform="translate(16.15,56.64) scale(0.9939,1)" font-size="35.46" font-family='"Liberation Sans", sans-serif' font-weight="normal" font-style="normal" fill="#ff0000">(a)</text>
<text transform="translate(135.76,425.90) scale(0.9288,1)" font-size="40.48" font-family='"Liberation Serif", serif' font-weight="bold" font-style="normal" fill="#ff0000">1</text>
<text transform="translate(27.87,283.20) scale(0.9676,1)" font-size="40.63" font-family='"Liberation Serif", serif' font-weight="bold" font-style="normal" fill="#ff0000">2</text>
<text transform="translate(221.62,221.09) scale(0.9711,1)" font-size="38.84" font-family='"Liberation Serif", serif' font-weight="bold" font-style="normal" fill="#ff0000">3</text>
<text transform="translate(418.70,81.50) scale(0.9040,1)" font-size="39.74" font-family='"Liberation Serif", serif' font-weight="bold" font-style="normal" fill="#ff0000">4</text>
<text transform="translate(546.81,94.39) scale(0.9275,1)" font-size="38.85" font-family='"Liberation Serif", serif' font-weight="normal" font-style="normal" fill="#ff0000">5</text>
<text transform="translate(541.93,382.08) scale(0.9462,1)" font-size="39.42" font-family='"Liberation Serif", serif' font-weight="bold" font-style="normal" fill="#ff0000">6</text>
<text transform="translate(428.36,350.30) scale(1.0245,1)" font-size="40.38" font-family='"Liberation Serif", serif' font-weight="bold" font-style="normal" fill="#ff0000">7</text>
<text transform="translate(426.09,441.49) scale(0.9021,1)" font-size="39.27" font-family='"Liberation Serif", serif' font-weight="normal" font-style="normal" fill="#ff0000">8</text>
<text transform="translate(1288.69,165.80) scale(1.1496,1)" font-size="25.75" font-family='"Liberation Serif", serif' font-weight="bold" font-style="normal" fill="#000">1</text>
<text transform="translate(1294.50,197.18) scale(1.0664,1)" font-size="25.75" font-family='"Liberation Serif", serif' font-weight="bold" font-style="normal" fill="#000">2</text>
<text transform="translate(1294.50,228.96) scale(1.0664,1)" font-size="25.75" font-family='"Liberation Serif", serif' font-weight="bold" font-style="normal" fill="#000">3</text>
<text transform="translate(1294.50,260.74) scale(1.0664,1)" font-size="25.75" font-family='"Liberation Serif", serif' font-weight="bold" font-style="normal" fill="#000">4</text>
<text transform="translate(1294.50,292.52) scale(1.0664,1)" font-size="25.75" font-family='"Liberation Serif", serif' font-weight="bold" font-style="normal" fill="#000">5</text>
<text transform="translate(1294.50,324.30) scale(1.0664,1)" font-size="25.75" font-family='"Liberation Serif", serif' font-weight="bold" font-style="normal" fill="#000">6</text>
<text transform="translate(1294.50,356.08) scale(1.0664,1)" font-size="25.75" font-family='"Liberation Serif", serif' font-weight="bold" font-style="normal" fill="#000">7</text>
<text transform="translate(1294.50,387.86) scale(1.0664,1)" font-size="25.75" font-family='"Liberation Serif", serif' font-weight="bold" font-style="normal" fill="#000">8</text>
<text transform="translate(752.25,437.56) scale(1.1396,1)" font-size="34.33" font-family='"Liberation Serif", serif' font-weight="bold" font-style="normal" fill="#000">0</text>
<text transform="translate(822.40,437.56) scale(1.1396,1)" font-size="34.33" font-family='"Liberation Serif", serif' font-weight="bold" font-style="normal" fill="#000">60</text>
<text transform="translate(892.54,437.56) scale(1.1396,1)" font-size="34.33" font-family='"Liberation Serif", serif' font-weight="bold" font-style="normal" fill="#000">120</text>
<text transform="translate(972.47,437.56) scale(1.1396,1)" font-size="34.33" font-family='"Liberation Serif", serif' font-weight="bold" font-style="normal" fill="#000">180</text>
<text transform="translate(1052.40,437.56) scale(1.1396,1)" font-size="34.33" font-family='"Liberation Serif", serif' font-weight="bold" font-style="normal" fill="#000">240</text>
<text transform="translate(1132.33,437.56) scale(1.1396,1)" font-size="34.33" font-family='"Liberation Serif", serif' font-weight="bold" font-style="normal" fill="#000">300</text>
<text transform="translate(1212.26,437.56) scale(1.1396,1)" font-size="34.33" font-family='"Liberation Serif", serif' font-weight="bold" font-style="normal" fill="#000">360</text>
<text transform="translate(1292.19,437.56) scale(1.1396,1)" font-size="34.33" font-family='"Liberation Serif", serif' font-weight="bold" font-style="normal" fill="#000">420</text>
<text transform="translate(905.20,477.99) scale(1.2218,1)" font-size="41.65" font-family='"Liberation Serif", serif' font-weight="bold" font-style="normal" fill="#000">Position (nm)</text>
<text transform="translate(714.24,381.99) rotate(-90) scale(0.9187,1)" font-size="47.84" font-family='"Liberation Serif", serif' font-weight="bold" font-style="normal" fill="#000">Thickness (3nm/div)</text>
<text transform="translate(776.93,78.10) scale(1.0252,1)" font-size="34.73" font-family='"Liberation Sans", sans-serif' font-weight="normal" font-style="normal" fill="#ff0000">(b)</text>
<text transform="translate(493.72,845.41) scale(1.0006,1)" font-size="37.82" font-family='"Liberation Serif", serif' font-weight="bold" font-style="normal" fill="#ff0000">50 nm</text>
<text transform="translate(16.38,533.92) scale(0.9746,1)" font-size="35.57" font-family='"Liberation Sans", sans-serif' font-weight="normal" font-style="normal" fill="#ff0000">(c)</text>
<text transform="translate(715.91,502.66) scale(1.0850,1)" font-size="34.62" font-family='"Liberation Serif", serif' font-weight="bold" font-style="normal" fill="#000">95</text>
<text transform="translate(715.91,582.66) scale(1.0850,1)" font-size="34.62" font-family='"Liberation Serif", serif' font-weight="bold" font-style="normal" fill="#000">91</text>
<text transform="translate(715.91,662.66) scale(1.0850,1)" font-size="34.62" font-family='"Liberation Serif", serif' font-weight="bold" font-style="normal" fill="#000">87</text>
<text transform="translate(715.91,742.66) scale(1.0850,1)" font-size="34.62" font-family='"Liberation Serif", serif' font-weight="bold" font-style="normal" fill="#000">83</text>
<text transform="translate(715.91,822.66) scale(1.0850,1)" font-size="34.62" font-family='"Liberation Serif", serif' font-weight="bold" font-style="normal" fill="#000">79</text>
<text transform="translate(715.91,902.66) scale(1.0850,1)" font-size="34.62" font-family='"Liberation Serif", serif' font-weight="bold" font-style="normal" fill="#000">75</text>
<text transform="translate(738.27,930.69) scale(1.1539,1)" font-size="32.73" font-family='"Liberation Serif", serif' font-weight="bold" font-style="normal" fill="#000">400</text>
<text transform="translate(847.23,930.69) scale(1.1539,1)" font-size="32.73" font-family='"Liberation Serif", serif' font-weight="bold" font-style="normal" fill="#000">720</text>
<text transform="translate(946.75,930.69) scale(1.1539,1)" font-size="32.73" font-family='"Liberation Serif", serif' font-weight="bold" font-style="normal" fill="#000">1040</text>
<text transform="translate(1055.71,930.69) scale(1.1539,1)" font-size="32.73" font-family='"Liberation Serif", serif' font-weight="bold" font-style="normal" fill="#000">1360</text>
<text transform="translate(1164.67,930.69) scale(1.1539,1)" font-size="32.73" font-family='"Liberation Serif", serif' font-weight="bold" font-style="normal" fill="#000">1680</text>
<text transform="translate(1273.63,930.69) scale(1.1539,1)" font-size="32.73" font-family='"Liberation Serif", serif' font-weight="bold" font-style="normal" fill="#000">2000</text>
<text transform="translate(1112.47,822.82) scale(1.0631,1)" font-size="37.09" font-family='"Liberation Serif", serif' font-weight="normal" font-style="normal" fill="#000">CGT-PVA</text>
<text transform="translate(1109.86,863.37) scale(1.0969,1)" font-size="34.09" font-family='"Liberation Serif", serif' font-weight="normal" font-style="normal" fill="#000">Substrate</text>
<text transform="translate(957.70,742.38) scale(1.1109,1)" font-size="34.24" font-family='"Liberation Serif", serif' font-weight="bold" font-style="normal" fill="#000">Wavelength=1562 nm</text>
<text transform="translate(1102.03,701.90) scale(0.8807,1)" font-size="28.50" font-family='"Liberation Serif", serif' font-weight="bold" font-style="italic" fill="#000">T</text>
<text transform="translate(1118.57,701.95) scale(1.0564,1)" font-size="28.95" font-family='"Liberation Serif", serif' font-weight="bold" font-style="normal" fill="#000">=88.83%</text>
<text transform="translate(860.10,967.52) scale(1.1082,1)" font-size="44.69" font-family='"Liberation Serif", serif' font-weight="bold" font-style="normal" fill="#000">Wavelength (nm)</text>
<text transform="translate(686.33,847.01) rotate(-90) scale(0.9598,1)" font-size="47.40" font-family='"Liberation Serif", serif' font-weight="bold" font-style="normal" fill="#000">Transmission (%)</text>
<text transform="translate(782.15,545.06) scale(1.0088,1)" font-size="34.94" font-family='"Liberation Sans", sans-serif' font-weight="normal" font-style="normal" fill="#ff0000">(d)</text>
<text transform="translate(359.03,997.68) scale(1.1260,1)" font-size="33.16" font-family='"Liberation Serif", serif' font-weight="bold" font-style="normal" fill="#000">86.6</text>
<text transform="translate(359.03,1048.33) scale(1.1260,1)" font-size="33.16" font-family='"Liberation Serif", serif' font-weight="bold" font-style="normal" fill="#000">86.4</text>
<text transform="translate(359.03,1098.98) scale(1.1260,1)" font-size="33.16" font-family='"Liberation Serif", serif' font-weight="bold" font-style="normal" fill="#000">86.2</text>
<text transform="translate(359.03,1149.63) scale(1.1260,1)" font-size="33.16" font-family='"Liberation Serif", serif' font-weight="bold" font-style="normal" fill="#000">86.0</text>
<text transform="translate(359.03,1200.28) scale(1.1260,1)" font-size="33.16" font-family='"Liberation Serif", serif' font-weight="bold" font-style="normal" fill="#000">85.8</text>
<text transform="translate(359.03,1250.93) scale(1.1260,1)" font-size="33.16" font-family='"Liberation Serif", serif' font-weight="bold" font-style="normal" fill="#000">85.6</text>
<text transform="translate(359.03,1301.58) scale(1.1260,1)" font-size="33.16" font-family='"Liberation Serif", serif' font-weight="bold" font-style="normal" fill="#000">85.4</text>
<text transform="translate(359.03,1352.23) scale(1.1260,1)" font-size="33.16" font-family='"Liberation Serif", serif' font-weight="bold" font-style="normal" fill="#000">85.2</text>
<text transform="translate(429.38,1406.78) scale(1.1024,1)" font-size="33.31" font-family='"Liberation Serif", serif' font-weight="bold" font-style="normal" fill="#000">0</text>
<text transform="translate(512.21,1406.78) scale(1.1024,1)" font-size="33.31" font-family='"Liberation Serif", serif' font-weight="bold" font-style="normal" fill="#000">11</text>
<text transform="translate(602.19,1406.78) scale(1.1024,1)" font-size="33.31" font-family='"Liberation Serif", serif' font-weight="bold" font-style="normal" fill="#000">22</text>
<text transform="translate(693.18,1406.78) scale(1.1024,1)" font-size="33.31" font-family='"Liberation Serif", serif' font-weight="bold" font-style="normal" fill="#000">33</text>
<text transform="translate(784.17,1406.78) scale(1.1024,1)" font-size="33.31" font-family='"Liberation Serif", serif' font-weight="bold" font-style="normal" fill="#000">44</text>
<text transform="translate(875.16,1406.78) scale(1.1024,1)" font-size="33.31" font-family='"Liberation Serif", serif' font-weight="bold" font-style="normal" fill="#000">55</text>
<text transform="translate(966.15,1406.78) scale(1.1024,1)" font-size="33.31" font-family='"Liberation Serif", serif' font-weight="bold" font-style="normal" fill="#000">66</text>
<text transform="translate(801.12,1251.64) scale(1.1842,1)" font-size="31.35" font-family='"Liberation Serif", serif' font-weight="normal" font-style="normal" fill="#000">Exp.data</text>
<text transform="translate(801.52,1291.36) scale(1.2051,1)" font-size="30.83" font-family='"Liberation Serif", serif' font-weight="normal" font-style="normal" fill="#000">fitting curve</text>
<text transform="translate(426.68,1445.10) scale(1.1734,1)" font-size="42.10" font-family='"Liberation Serif", serif' font-weight="bold" font-style="normal" fill="#000">Optical intensity</text>
<text transform="translate(790.36,1444.29) scale(1.2220,1)" font-size="24.73" font-family='"Liberation Serif", serif' font-weight="normal" font-style="normal" fill="#000">(</text>
<text transform="translate(800.33,1444.80) scale(1.1371,1)" font-size="43.16" font-family='"Liberation Serif", serif' font-weight="bold" font-style="normal" fill="#000">MW/cm</text>
<text transform="translate(972.96,1436.60) scale(1.1117,1)" font-size="24.26" font-family='"Liberation Serif", serif' font-weight="bold" font-style="normal" fill="#000">2</text>
<text transform="translate(986.70,1444.36) scale(1.3111,1)" font-size="24.41" font-family='"Liberation Serif", serif' font-weight="normal" font-style="normal" fill="#000">)</text>
<text transform="translate(342.31,1342.38) rotate(-90) scale(0.9492,1)" font-size="45.67" font-family='"Liberation Serif", serif' font-weight="bold" font-style="normal" fill="#000">Transmission (%)</text>
<text transform="translate(453.41,1040.16) scale(1.0317,1)" font-size="34.94" font-family='"Liberation Sans", sans-serif' font-weight="normal" font-style="normal" fill="#ff0000">(e)</text>
</svg>
</body></html>
